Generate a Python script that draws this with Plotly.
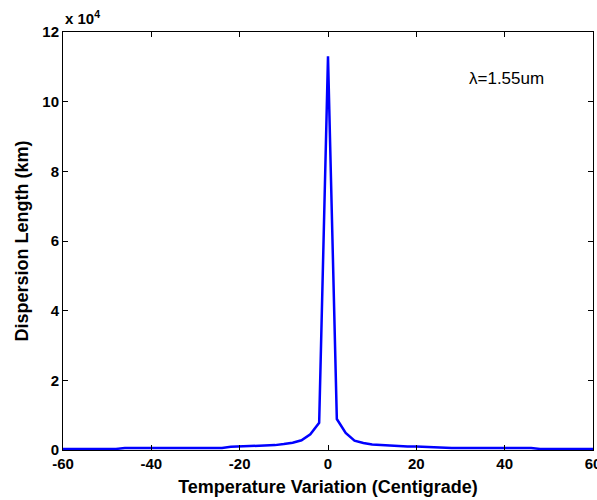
import plotly.graph_objects as go

# Temperature variation (Centigrade)
temperature = [-60, -58, -56, -54, -52, -50, -48, -46, -44, -42, -40, -38, -36, -34, -32, -30,
               -28, -26, -24, -22, -20, -18, -16, -14, -12, -10, -8, -6, -4, -2, 0,
               2, 4, 6, 8, 10, 12, 14, 16, 18, 20, 22, 24, 26, 28, 30,
               32, 34, 36, 38, 40, 42, 44, 46, 48, 50, 52, 54, 56, 58, 60]
# Dispersion length in units of 1e4 km
dispersion_1e4km = [0.03, 0.03, 0.03, 0.03, 0.03, 0.03, 0.03, 0.06, 0.06, 0.06, 0.06, 0.06, 0.06, 0.06, 0.06, 0.06,
                    0.06, 0.06, 0.06, 0.09, 0.10, 0.10, 0.11, 0.13, 0.14, 0.17, 0.21, 0.28, 0.45, 0.78, 11.3,
                    0.89, 0.49, 0.27, 0.20, 0.16, 0.14, 0.12, 0.10, 0.10, 0.10, 0.09, 0.06, 0.06, 0.06, 0.06,
                    0.06, 0.06, 0.06, 0.06, 0.06, 0.06, 0.06, 0.06, 0.03, 0.03, 0.03, 0.03, 0.03, 0.03, 0.03]
x_ticks = [-60, -40, -20, 0, 20, 40, 60]
y_ticks = [0, 2, 4, 6, 8, 10, 12]

font_family = "Liberation Sans, Arial, Helvetica, sans-serif"

fig = go.Figure()
fig.add_trace(go.Scatter(x=temperature, y=dispersion_1e4km, mode="lines",
                         line=dict(color="#0000FF", width=2.5), showlegend=False))

axis_common = dict(showgrid=False, zeroline=False, showline=True, linecolor="black", linewidth=1,
                   mirror="ticks", ticks="inside", ticklen=5, tickcolor="black", tickwidth=1,
                   automargin=False, ticklabeloverflow="allow",
                   tickfont=dict(family=font_family, size=15, color="black", weight="bold"))

fig.update_xaxes(range=[-60, 60], tickvals=x_ticks, ticktext=[str(v) for v in x_ticks],
                 title=dict(text="Temperature Variation (Centigrade)", standoff=9,
                            font=dict(family=font_family, size=18, color="black", weight="bold")),
                 **axis_common)
fig.update_yaxes(range=[0, 12], tickvals=y_ticks, ticktext=[str(v) for v in y_ticks],
                 title=dict(text="Dispersion Length (km)", standoff=9,
                            font=dict(family=font_family, size=18, color="black", weight="bold")),
                 **axis_common)

fig.add_annotation(x=0, y=1.0, xref="paper", yref="paper", xanchor="left", yanchor="bottom",
                   text="x 10<sup>4</sup>", showarrow=False, yshift=3,
                   font=dict(family=font_family, size=15, color="black", weight="bold"))
fig.add_annotation(x=0.762, y=0.888, xref="paper", yref="paper", xanchor="left", yanchor="middle",
                   text="λ=1.55um", showarrow=False,
                   font=dict(family=font_family, size=17, color="black"))

fig.update_layout(width=597, height=500, margin=dict(l=63, r=4, t=32, b=50),
                  paper_bgcolor="white", plot_bgcolor="white")

fig.write_html("out.html", config={"displayModeBar": False},
               post_script="document.body.style.margin='0';document.body.style.overflow='hidden';")
